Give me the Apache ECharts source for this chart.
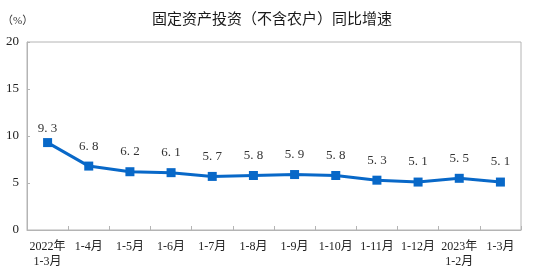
<!DOCTYPE html>
<html>
<head>
<meta charset="utf-8">
<script src="https://cdn.jsdelivr.net/npm/echarts@6/dist/echarts.min.js"></script>
<style>
  html, body { margin: 0; padding: 0; background: #fff; }
  #chart { width: 540px; height: 280px; }
</style>
</head>
<body>
<div id="chart"></div>
<script>
  // categories and values
  const months = ["2022年\n1-3月", "1-4月", "1-5月", "1-6月", "1-7月", "1-8月", "1-9月", "1-10月", "1-11月", "1-12月", "2023年\n1-2月", "1-3月"]
  const growth = [9.3, 6.8, 6.2, 6.1, 5.7, 5.8, 5.9, 5.8, 5.3, 5.1, 5.5, 5.1]
  const yTicks = [0, 5, 10, 15, 20]

  const font = "'Liberation Serif', 'Noto Sans CJK SC', serif"
  const chart = echarts.init(document.getElementById("chart"))

  const option = {
    animation: false,
    title: {
      text: "固定资产投资（不含农户）同比增速",
      left: 267,
      textAlign: "center",
      top: 6,
      textStyle: {
        fontFamily: "'Noto Sans CJK SC', sans-serif",
        fontSize: 15,
        fontWeight: "normal",
        color: "#1a1a1a",
      },
    },
    graphic: [
      {
        type: "text",
        left: 2,
        top: 16,
        style: { text: "（%）", fontSize: 11, fill: "#333", fontFamily: font },
      },
    ],
    grid: {
      left: 27,
      right: 19,
      top: 42,
      bottom: 50,
      show: true,
      borderColor: "#b4b4b4",
      borderWidth: 1,
    },
    xAxis: {
      type: "category",
      data: months,
      boundaryGap: true,
      axisLine: { show: true, lineStyle: { color: "#b4b4b4", width: 1 } },
      axisTick: { show: true, inside: true, length: 4, lineStyle: { color: "#b4b4b4" } },
      axisLabel: {
        interval: 0,
        margin: 9,
        fontSize: 12,
        lineHeight: 15,
        color: "#222",
        fontFamily: font,
      },
    },
    yAxis: {
      type: "value",
      min: yTicks[0],
      max: yTicks[yTicks.length - 1],
      interval: 5,
      splitLine: { show: false },
      axisLine: { show: true, lineStyle: { color: "#b4b4b4" } },
      axisTick: { show: true, inside: true, length: 3, lineStyle: { color: "#b4b4b4" } },
      axisLabel: {
        fontSize: 13,
        color: "#222",
        margin: 8,
        fontFamily: font,
      },
    },
    series: [
      {
        type: "line",
        // the first label sits closer to its point in the reference
        data: growth.map((v, i) => (i === 0 ? { value: v, label: { distance: 3 } } : v)),
        symbol: "rect",
        symbolSize: 9,
        lineStyle: { color: "#0868c8", width: 3 },
        itemStyle: { color: "#0868c8" },
        label: {
          show: true,
          position: "top",
          distance: 9,
          fontSize: 13,
          color: "#333",
          fontFamily: font,
          formatter: (p) => p.value.toFixed(1).replace(".", ". "),
        },
      },
    ],
  }

  chart.setOption(option)
</script>
</body>
</html>
